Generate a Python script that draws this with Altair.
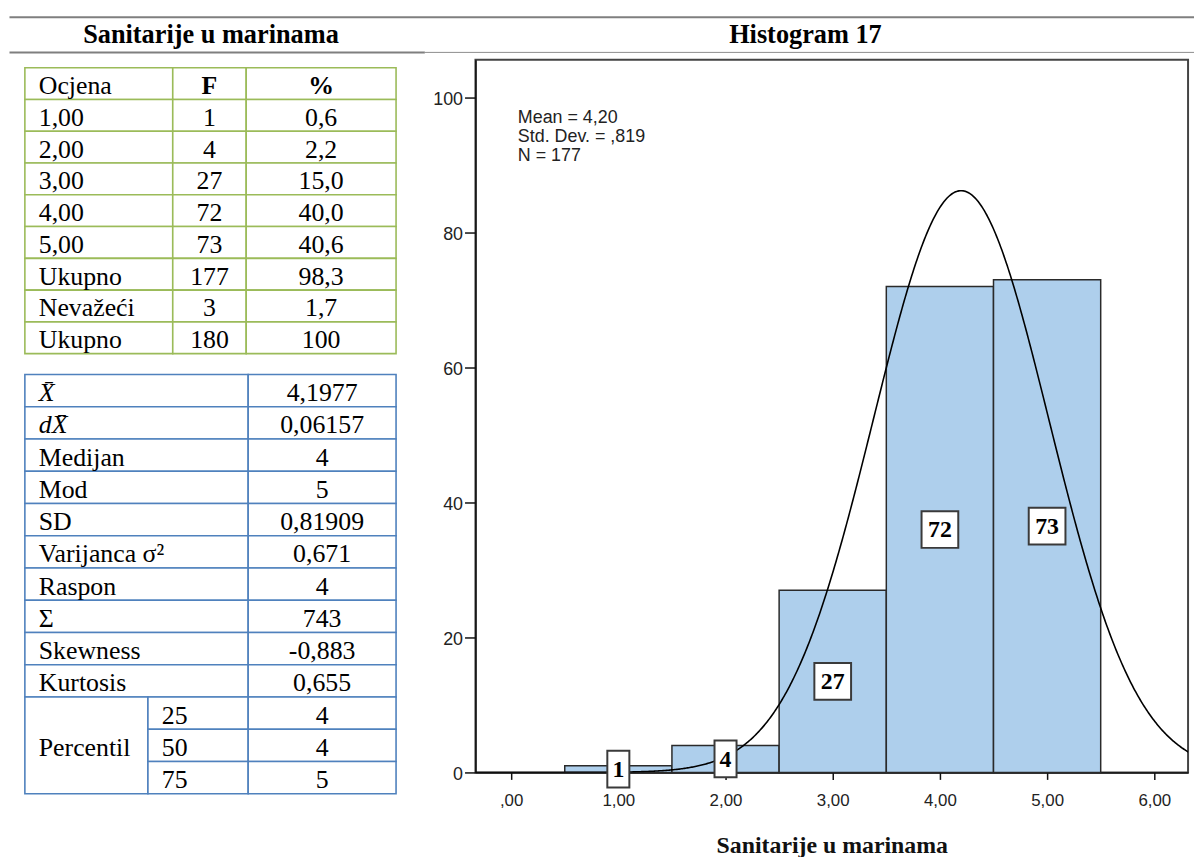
import json
import altair as alt
import pandas as pd

# ---------------- data ----------------
header_titles = ["Sanitarije u marinama", "Histogram 17"]

table1_header = ["Ocjena", "F", "%"]
table1_grades = ["1,00", "2,00", "3,00", "4,00", "5,00", "Ukupno", "Nevažeći", "Ukupno"]
table1_freq = ["1", "4", "27", "72", "73", "177", "3", "180"]
table1_pct = ["0,6", "2,2", "15,0", "40,0", "40,6", "98,3", "1,7", "100"]

table2_labels = ["X\u0304", "dX\u0304", "Medijan", "Mod", "SD", "Varijanca σ²",
                 "Raspon", "Σ", "Skewness", "Kurtosis"]
table2_values = ["4,1977", "0,06157", "4", "5", "0,81909", "0,671", "4", "743",
                 "-0,883", "0,655"]
percentile_label = "Percentil"
percentile_ranks = ["25", "50", "75"]
percentile_values = ["4", "4", "5"]

scores = [1, 2, 3, 4, 5]
counts = [1, 4, 27, 72, 73]
hist_mean = 4.1977
hist_sd = 0.81909
hist_n = 177
stats_lines = ["Mean = 4,20", "Std. Dev. = ,819", "N = 177"]
x_ticks = [0, 1, 2, 3, 4, 5, 6]
x_tick_labels = [",00", "1,00", "2,00", "3,00", "4,00", "5,00", "6,00"]
y_ticks = [0, 20, 40, 60, 80, 100]

# ---------------- style / layout ----------------
SERIF = "Liberation Serif"
SANS = "Liberation Sans"
GREEN = "#9bbb59"
BLUE = "#4f81bd"
BAR_FILL = "#aecfec"
TXT = 26
T1_COLS = [0, 149, 223, 374]
T2_COLS = [0, 124, 225, 374]
LEFT_W = 412

one = alt.Data(values=[{}])


def table_layers(cells, texts, color, nrows, yrange):
    xs = alt.Scale(domain=[0, 374], range=[17, 391], nice=False, zero=False)
    ys = alt.Scale(domain=[0, nrows], range=yrange, nice=False, zero=False)
    rects = alt.Chart(pd.DataFrame(cells)).mark_rect(
        fill="white", stroke=color, strokeWidth=1.6
    ).encode(
        x=alt.X("x0:Q", scale=xs, axis=None), x2="x1:Q",
        y=alt.Y("r0:Q", scale=ys, axis=None), y2="r1:Q",
    )
    layers = [rects]
    tdf = pd.DataFrame(texts)
    for (align, weight, style), grp in tdf.groupby(["align", "weight", "style"]):
        layers.append(
            alt.Chart(grp).mark_text(
                align=align, baseline="alphabetic", dy=10.6, font=SERIF,
                fontSize=TXT, fontWeight=weight, fontStyle=style, color="black"
            ).encode(
                x=alt.X("x:Q", scale=xs, axis=None),
                y=alt.Y("yc:Q", scale=ys, axis=None),
                text="t:N",
            )
        )
    return layers


# ---- table 1 ----
t1_cells, t1_texts = [], []
for r in range(9):
    for c in range(3):
        t1_cells.append(dict(x0=T1_COLS[c], x1=T1_COLS[c + 1], r0=r, r1=r + 1))
c1 = (T1_COLS[1] + T1_COLS[2]) / 2
c2 = (T1_COLS[2] + T1_COLS[3]) / 2
t1_texts.append(dict(x=14, yc=0.5, t=table1_header[0], align="left", weight="normal", style="normal"))
t1_texts.append(dict(x=c1, yc=0.5, t=table1_header[1], align="center", weight="bold", style="normal"))
t1_texts.append(dict(x=c2, yc=0.5, t=table1_header[2], align="center", weight="bold", style="normal"))
for i, (g, f, p) in enumerate(zip(table1_grades, table1_freq, table1_pct)):
    t1_texts.append(dict(x=14, yc=i + 1.5, t=g, align="left", weight="normal", style="normal"))
    t1_texts.append(dict(x=c1, yc=i + 1.5, t=f, align="center", weight="normal", style="normal"))
    t1_texts.append(dict(x=c2, yc=i + 1.5, t=p, align="center", weight="normal", style="normal"))

# ---- table 2 ----
t2_cells, t2_texts = [], []
vc = (T2_COLS[2] + T2_COLS[3]) / 2
for i, (lab, val) in enumerate(zip(table2_labels, table2_values)):
    t2_cells.append(dict(x0=T2_COLS[0], x1=T2_COLS[2], r0=i, r1=i + 1))
    t2_cells.append(dict(x0=T2_COLS[2], x1=T2_COLS[3], r0=i, r1=i + 1))
    t2_texts.append(dict(x=14, yc=i + 0.5, t=lab, align="left", weight="normal",
                         style="italic" if i < 2 else "normal"))
    t2_texts.append(dict(x=vc, yc=i + 0.5, t=val, align="center", weight="normal", style="normal"))
n0 = len(table2_labels)
t2_cells.append(dict(x0=T2_COLS[0], x1=T2_COLS[1], r0=n0, r1=n0 + 3))
t2_texts.append(dict(x=14, yc=n0 + 1.5, t=percentile_label, align="left", weight="normal", style="normal"))
for j, (rk, pv) in enumerate(zip(percentile_ranks, percentile_values)):
    t2_cells.append(dict(x0=T2_COLS[1], x1=T2_COLS[2], r0=n0 + j, r1=n0 + j + 1))
    t2_cells.append(dict(x0=T2_COLS[2], x1=T2_COLS[3], r0=n0 + j, r1=n0 + j + 1))
    t2_texts.append(dict(x=138, yc=n0 + j + 0.5, t=rk, align="left", weight="normal", style="normal"))
    t2_texts.append(dict(x=vc, yc=n0 + j + 0.5, t=pv, align="center", weight="normal", style="normal"))

left_col = alt.layer(
    *table_layers(t1_cells, t1_texts, GREEN, 9, [8, 296]),
    *table_layers(t2_cells, t2_texts, BLUE, n0 + 3, [317, 739.5]),
).resolve_scale(y="independent").properties(width=LEFT_W, height=740)

# ---- header ----
hdr_top = alt.Chart(one).mark_rule(color="#7f7f7f", strokeWidth=2).encode(
    x=alt.value(1.5), x2=alt.value(1195), y=alt.value(6))
hdr_b1 = alt.Chart(one).mark_rule(color="#7f7f7f", strokeWidth=2).encode(
    x=alt.value(1.5), x2=alt.value(420), y=alt.value(41.5))
hdr_b2 = alt.Chart(one).mark_rule(color="#8c8c8c", strokeWidth=1).encode(
    x=alt.value(420), x2=alt.value(1195), y=alt.value(41.5))
hdr_t1 = alt.Chart(one).mark_text(font=SERIF, fontSize=26.5, fontWeight="bold",
                                  baseline="alphabetic", color="black").encode(
    x=alt.value(204.5), y=alt.value(32), text=alt.value(header_titles[0]))
hdr_t2 = alt.Chart(one).mark_text(font=SERIF, fontSize=26.5, fontWeight="bold",
                                  baseline="alphabetic", color="black").encode(
    x=alt.value(803.5), y=alt.value(32), text=alt.value(header_titles[1]))
header = alt.layer(hdr_top, hdr_b1, hdr_b2, hdr_t1, hdr_t2).properties(width=1195, height=49)

# ---- histogram ----
xs = alt.Scale(domain=[-0.333, 6.315], nice=False, zero=False)
ys = alt.Scale(domain=[0, 105.6], nice=False, zero=False)
hist_df = pd.DataFrame({"score": scores, "count": counts})
base = alt.Chart(hist_df)

x_axis = alt.Axis(
    values=x_ticks, labelExpr=json.dumps(x_tick_labels) + "[datum.value]",
    tickSize=7, tickWidth=1.5, tickColor="#111", labelPadding=13,
    labelFont=SANS, labelFontSize=17, labelColor="#222", labelFlush=False,
    domainColor="#111", domainWidth=1.6, grid=False,
    title="Sanitarije u marinama", titleFont=SERIF, titleFontSize=24,
    titleFontWeight="bold", titleColor="#111", titlePadding=26,
)
y_axis = alt.Axis(
    values=y_ticks, tickSize=11, tickWidth=1.5, tickColor="#111", labelPadding=2,
    labelFont=SANS, labelFontSize=18, labelColor="#222", labelOffset=2,
    domainColor="#111", domainWidth=1.6, grid=False, title="",
)

bars = base.transform_calculate(
    lo="datum.score - 0.5", hi="datum.score + 0.5", zero="0"
).mark_rect(fill=BAR_FILL, stroke="#2a2a2a", strokeWidth=1.5).encode(
    x=alt.X("lo:Q", scale=xs, axis=x_axis), x2="hi:Q",
    y=alt.Y("count:Q", scale=ys, axis=y_axis), y2="zero:Q",
)

curve = alt.Chart(alt.sequence(-0.333, 6.32, 0.01, as_="xv")).transform_calculate(
    yv=f"{hist_n} / ({hist_sd} * sqrt(2 * PI)) * exp(-0.5 * pow((datum.xv - {hist_mean}) / {hist_sd}, 2))"
).mark_line(color="black", strokeWidth=1.6, clip=True).encode(
    x=alt.X("xv:Q", scale=xs, axis=x_axis),
    y=alt.Y("yv:Q", scale=ys, axis=y_axis),
)

PATH1 = "M-0.6,-1L0.6,-1L0.6,1L-0.6,1Z"
PATH2 = "M-1,-1L1,-1L1,1L-1,1Z"
boxes = base.transform_calculate(
    mid="datum.count / 2", nd="datum.count < 10 ? 'one' : 'two'"
).mark_point(fill="white", fillOpacity=1, opacity=1, stroke="#3a3a3a",
             strokeWidth=2, size=1369).encode(
    x=alt.X("score:Q", scale=xs, axis=x_axis),
    y=alt.Y("mid:Q", scale=ys, axis=y_axis),
    shape=alt.Shape("nd:N", scale=alt.Scale(domain=["one", "two"], range=[PATH1, PATH2]), legend=None),
)
box_text = base.transform_calculate(mid="datum.count / 2").mark_text(
    font=SERIF, fontWeight="bold", fontSize=24, baseline="alphabetic", dy=8, color="black"
).encode(
    x=alt.X("score:Q", scale=xs, axis=x_axis),
    y=alt.Y("mid:Q", scale=ys, axis=y_axis),
    text="count:Q",
)
stats = alt.Chart(one).mark_text(
    align="left", baseline="alphabetic", font=SANS, fontSize=18, lineHeight=19, color="#222"
).encode(x=alt.value(42.7), y=alt.value(64), text=alt.value(stats_lines))

hist = alt.layer(bars, curve, boxes, box_text, stats).properties(
    width=718, height=718, view=alt.ViewBackground(stroke="#444", strokeWidth=2)
)

bottom = alt.hconcat(left_col, hist, spacing=59, bounds="flush")
chart = alt.vconcat(header, bottom, spacing=0, bounds="flush").properties(
    padding=0
).configure_view(stroke=None)

chart.save("out.html", embed_options={"renderer": "svg", "actions": False})
